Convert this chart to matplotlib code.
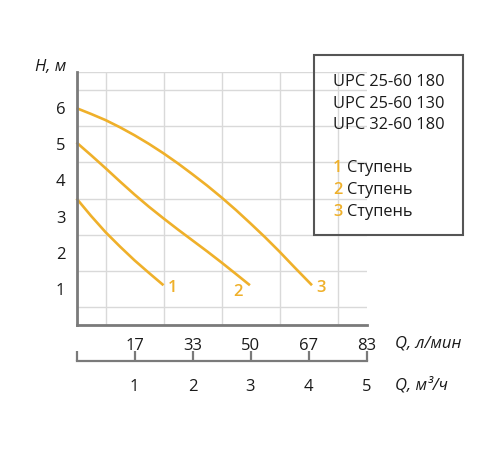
import matplotlib
matplotlib.use("Agg")
import matplotlib.pyplot as plt
from matplotlib.patches import Rectangle
import numpy as np

plt.rcParams['font.family'] = ['Open Sans', 'DejaVu Sans']

# Data (flow in m3/h, head in m)
q1 = [0.0, 0.25, 0.5, 0.75, 1.0, 1.25, 1.5]
h1 = [3.5, 3.02, 2.57, 2.17, 1.79, 1.44, 1.1]
q2 = [0.0, 0.25, 0.5, 0.75, 1.0, 1.25, 1.5, 1.75, 2.0, 2.25, 2.5, 2.75, 2.99]
h2 = [5.05, 4.70, 4.34, 3.97, 3.61, 3.27, 2.95, 2.64, 2.34, 2.04, 1.73, 1.41, 1.1]
q3 = [0.0, 0.25, 0.5, 0.75, 1.0, 1.25, 1.5, 1.75, 2.0, 2.25, 2.5, 2.75, 3.0, 3.25, 3.5, 3.75, 4.06]
h3 = [6.0, 5.84, 5.67, 5.47, 5.25, 5.01, 4.75, 4.47, 4.17, 3.86, 3.53, 3.18, 2.81, 2.43, 2.03, 1.61, 1.1]
curve_labels = ['1', '2', '3']
curves = [(q1, h1), (q2, h2), (q3, h3)]

y_ticks = [1, 2, 3, 4, 5, 6]
q_m3h_ticks = [1, 2, 3, 4, 5]
q_lmin_labels = ['17', '33', '50', '67', '83']
q_m3h_labels = ['1', '2', '3', '4', '5']
models = ['UPC 25-60 180', 'UPC 25-60 130', 'UPC 32-60 180']
stage_word = 'Ступень'

# Styles
ORANGE = '#EFB02A'
GRID = '#d9d9d9'
SPINE = '#7a7a7a'
TXT = '#1a1a1a'
label_offsets = [((3, -2), 'left'), ((-5, -5), 'right'), ((3, -2), 'left')]
W, H = 500, 450

fig = plt.figure(figsize=(5, 4.5), dpi=100)

def fx(px):
    return px / W

def fy(py):
    return (H - py) / H

ax = fig.add_axes([fx(76.5), fy(325), fx(366.5) - fx(76.5), fy(72) - fy(325)])
ax.set_xlim(0, 5)
ax.set_ylim(0, 7)
ax.set_xticks(np.arange(0, 5.01, 0.5), minor=True)
ax.set_yticks(np.arange(0, 7.01, 0.5), minor=True)
ax.set_xticks(q_m3h_ticks)
ax.set_xticklabels(q_lmin_labels)
ax.set_yticks(y_ticks)
ax.set_yticklabels([str(v) for v in y_ticks])
ax.grid(True, which='minor', color=GRID, lw=1.0)
ax.grid(False, which='major')
ax.set_axisbelow(True)
ax.tick_params(which='both', length=0)
ax.tick_params(axis='x', pad=9, labelsize=12, colors=TXT)
ax.tick_params(axis='y', pad=8, labelsize=12, colors=TXT)
for s in ['top', 'right']:
    ax.spines[s].set_visible(False)
for s in ['left', 'bottom']:
    ax.spines[s].set_color(SPINE)
    ax.spines[s].set_linewidth(2)

for (q, h), lab, (off, ha) in zip(curves, curve_labels, label_offsets):
    ax.plot(q, h, color=ORANGE, lw=1.9, solid_capstyle='butt', solid_joinstyle='round', clip_on=False)
    ax.annotate(lab, (q[-1], h[-1]), xytext=off, textcoords='offset points',
                color=ORANGE, fontsize=12, fontweight='semibold', ha=ha, va='center')

# Secondary scale (m3/h)
ax2 = fig.add_axes([fx(76.5), fy(361), fx(366.5) - fx(76.5), 0.0001])
ax2.set_xlim(0, 5)
ax2.set_ylim(0, 1)
ax2.patch.set_visible(False)
for s in ['top', 'right', 'left']:
    ax2.spines[s].set_visible(False)
ax2.spines['bottom'].set_color(SPINE)
ax2.spines['bottom'].set_linewidth(1.6)
ax2.set_yticks([])
ax2.set_xticks([0] + q_m3h_ticks)
ax2.set_xticklabels([''] + q_m3h_labels)
ax2.tick_params(axis='x', direction='in', length=7, width=1.6, color=SPINE,
                pad=13, labelsize=12, labelcolor=TXT)

# Axis titles
fig.text(fx(51), fy(67), 'H, м', fontsize=12, style='italic', ha='center', va='center', color=TXT)
fig.text(fx(395), fy(343), 'Q, л/мин', fontsize=12, style='italic', ha='left', va='center', color=TXT)
fig.text(fx(395), fy(385), 'Q, м³/ч', fontsize=12, style='italic', ha='left', va='center', color=TXT)

# Legend box
fig.patches.append(Rectangle((fx(314), fy(235)), fx(463) - fx(314), fy(55) - fy(235),
                             transform=fig.transFigure, fill=False, edgecolor='#555555', lw=1.5))
for i, m in enumerate(models):
    fig.text(fx(333), fy(82 + 21.5 * i), m, fontsize=11.8, ha='left', va='center', color=TXT)
for i, lab in enumerate(curve_labels):
    y = fy(168 + 22 * i)
    fig.text(fx(333), y, lab, fontsize=11.8, fontweight='semibold', ha='left', va='center', color=ORANGE)
    fig.text(fx(347), y, stage_word, fontsize=11.8, ha='left', va='center', color=TXT)

fig.savefig('out.png', dpi=100)
